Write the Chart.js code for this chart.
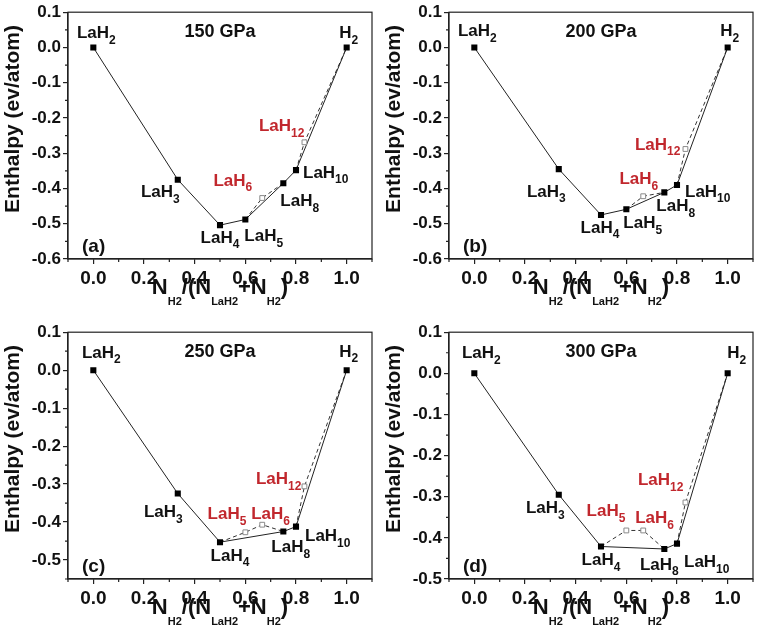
<!DOCTYPE html>
<html>
<head>
<meta charset="utf-8">
<script src="https://cdn.jsdelivr.net/npm/chart.js@4.4.1/dist/chart.umd.min.js"></script>
<style>
body { margin: 0; background: #fff; }
#wrap { display: grid; grid-template-columns: 381px 381px; grid-template-rows: 320px 320px; width: 762px; height: 640px; }
canvas { display: block; }
</style>
</head>
<body>
<div id="wrap">
<canvas id="c0" width="381" height="320"></canvas>
<canvas id="c1" width="381" height="320"></canvas>
<canvas id="c2" width="381" height="320"></canvas>
<canvas id="c3" width="381" height="320"></canvas>
</div>
<script>
const FONT = "'Liberation Sans', Arial, sans-serif";
const RED = '#c1272d';
const INK = '#111';

const pressures = ['150 GPa', '200 GPa', '250 GPa', '300 GPa'];
const panelTags = ['(a)', '(b)', '(c)', '(d)'];

// H2 fraction N_H2/(N_LaH2+N_H2) of each phase
const fracH2 = { LaH2: 0, LaH3: 0.3333, LaH4: 0.5, LaH5: 0.6, LaH6: 0.6667, LaH8: 0.75, LaH10: 0.8, LaH12: 0.8333, H2: 1 };

// phases on the hull (filled squares) and above it (open squares)
const stableAB = ['LaH2', 'LaH3', 'LaH4', 'LaH5', 'LaH8', 'LaH10', 'H2'];
const stableCD = ['LaH2', 'LaH3', 'LaH4', 'LaH8', 'LaH10', 'H2'];
const metaAB = ['LaH6', 'LaH12'];
const metaCD = ['LaH5', 'LaH6', 'LaH12'];

// enthalpies (eV/atom)
const h150 = [0, -0.375, -0.504, -0.488, -0.385, -0.348, 0];
const h150meta = [-0.427, -0.269];
const h200 = [0, -0.345, -0.475, -0.459, -0.411, -0.390, 0];
const h200meta = [-0.422, -0.288];
const h250 = [0, -0.325, -0.453, -0.425, -0.412, 0];
const h250meta = [-0.427, -0.407, -0.306];
const h300 = [0, -0.295, -0.421, -0.427, -0.414, 0];
const h300meta = [-0.382, -0.382, -0.314];

// dashed connections through metastable phases
const dashAB = [['LaH5', 'LaH6', 'LaH8'], ['LaH10', 'LaH12', 'H2']];
const dashCD = [['LaH4', 'LaH5', 'LaH6', 'LaH8'], ['LaH10', 'LaH12', 'H2']];

const xTicks = [0, 0.2, 0.4, 0.6, 0.8, 1.0];
const yTicksAB = [0.1, 0, -0.1, -0.2, -0.3, -0.4, -0.5, -0.6];
const yTicksCD = [0.1, 0, -0.1, -0.2, -0.3, -0.4, -0.5];
const yMins = [-0.6, -0.6, -0.55, -0.5];

const panels = [
    { stable: stableAB, h: h150, meta: metaAB, hm: h150meta, dash: dashAB, yTicks: yTicksAB },
    { stable: stableAB, h: h200, meta: metaAB, hm: h200meta, dash: dashAB, yTicks: yTicksAB },
    { stable: stableCD, h: h250, meta: metaCD, hm: h250meta, dash: dashCD, yTicks: yTicksCD },
    { stable: stableCD, h: h300, meta: metaCD, hm: h300meta, dash: dashCD, yTicks: yTicksCD }
];

// label placement: [dx, dy, align] relative to the marker
const labelPos = [
    { LaH2: [3, -14, 'center'], H2: [2, -14, 'center'], LaH3: [2, 13, 'right'], LaH4: [0, 13, 'center'], LaH5: [-1, 17, 'left'], LaH8: [-3, 18, 'left'], LaH10: [7, 3, 'left'], LaH6: [-10, -17, 'right'], LaH12: [0, -16, 'right'] },
    { LaH2: [3, -16, 'center'], H2: [2, -16, 'center'], LaH3: [7, 23, 'right'], LaH4: [-1, 13, 'center'], LaH5: [-3, 14, 'left'], LaH8: [-8, 14, 'left'], LaH10: [8, 7, 'left'], LaH6: [15, -17, 'right'], LaH12: [-5, -4, 'right'] },
    { LaH2: [8, -17, 'center'], H2: [2, -18, 'center'], LaH3: [5, 19, 'right'], LaH4: [10, 14, 'center'], LaH8: [-12, 16, 'left'], LaH10: [9, 10, 'left'], LaH5: [1, -18, 'right'], LaH6: [-11, -10, 'left'], LaH12: [-3, -7, 'right'] },
    { LaH2: [7, -20, 'center'], H2: [9, -20, 'center'], LaH3: [6, 14, 'right'], LaH4: [0, 14, 'center'], LaH8: [-5, 16, 'center'], LaH10: [7, 19, 'left'], LaH5: [-1, -19, 'right'], LaH6: [-8, -12, 'left'], LaH12: [-2, -22, 'right'] }
];

function drawChem(ctx, name, x, y, align, color, big, small, drop) {
    const m = name.match(/^(\D+)(\d*)$/);
    ctx.font = `bold ${big}px ${FONT}`;
    const wb = ctx.measureText(m[1]).width;
    ctx.font = `bold ${small}px ${FONT}`;
    const ws = ctx.measureText(m[2]).width;
    const w = wb + ws;
    const x0 = align === 'left' ? x : align === 'right' ? x - w : x - w / 2;
    ctx.fillStyle = color;
    ctx.textAlign = 'left';
    ctx.textBaseline = 'middle';
    ctx.font = `bold ${big}px ${FONT}`;
    ctx.fillText(m[1], x0, y);
    ctx.font = `bold ${small}px ${FONT}`;
    ctx.fillText(m[2], x0 + wb, y + drop);
}

const decor = {
    id: 'decor',
    afterDraw(chart) {
        const { ctx, chartArea: a, scales: { x, y } } = chart;
        const i = chart.options.plugins.decor.panel;
        const p = panels[i];
        ctx.save();
        // frame
        ctx.strokeStyle = '#222';
        ctx.lineWidth = 1.2;
        ctx.strokeRect(a.left, a.top, a.right - a.left, a.bottom - a.top);
        // minor ticks
        ctx.beginPath();
        for (let v = -0.1; v <= 1.101; v += 0.2) {
            const px = x.getPixelForValue(v);
            ctx.moveTo(px, a.bottom); ctx.lineTo(px, a.bottom + 3);
        }
        for (let v = 0.05; v >= yMins[i] - 0.001; v -= 0.1) {
            const py = y.getPixelForValue(v);
            ctx.moveTo(a.left, py); ctx.lineTo(a.left - 3, py);
        }
        ctx.stroke();
        // phase labels
        const pos = labelPos[i];
        p.stable.forEach((n, k) => {
            const [dx, dy, al] = pos[n];
            drawChem(ctx, n, x.getPixelForValue(fracH2[n]) + dx, y.getPixelForValue(p.h[k]) + dy, al, INK, 17, 12, 7);
        });
        p.meta.forEach((n, k) => {
            const [dx, dy, al] = pos[n];
            drawChem(ctx, n, x.getPixelForValue(fracH2[n]) + dx, y.getPixelForValue(p.hm[k]) + dy, al, RED, 17, 12, 7);
        });
        // pressure and panel tag
        ctx.fillStyle = INK;
        ctx.textAlign = 'center';
        ctx.textBaseline = 'middle';
        ctx.font = `bold 18px ${FONT}`;
        ctx.fillText(pressures[i], x.getPixelForValue(0.5), a.top + 20);
        ctx.textAlign = 'left';
        ctx.font = `bold 19px ${FONT}`;
        ctx.fillText(panelTags[i], a.left + 14, a.bottom - 12);
        // x title with subscripts
        const parts = [['N', 0], ['H2', 1], ['/(N', 0], ['LaH2', 1], ['+N', 0], ['H2', 1], [')', 0]];
        let tw = 0;
        parts.forEach(([t, s]) => {
            ctx.font = `bold ${s ? 11 : 22}px ${FONT}`;
            tw += ctx.measureText(t).width;
        });
        let cx = (a.left + a.right) / 2 - tw / 2;
        const ty = a.bottom + 29;
        parts.forEach(([t, s]) => {
            ctx.font = `bold ${s ? 11 : 22}px ${FONT}`;
            ctx.fillText(t, cx, s ? ty + 14 : ty);
            cx += ctx.measureText(t).width;
        });
        // y title
        ctx.translate(13, 119);
        ctx.rotate(-Math.PI / 2);
        ctx.textAlign = 'center';
        ctx.font = `bold 21px ${FONT}`;
        ctx.fillText('Enthalpy (ev/atom)', 0, 0);
        ctx.restore();
    }
};

panels.forEach((p, i) => {
    const datasets = [{
        data: p.stable.map((n, k) => ({ x: fracH2[n], y: p.h[k] })),
        showLine: true,
        borderColor: '#222',
        borderWidth: 1,
        pointStyle: 'rect',
        pointRadius: 4.3,
        pointBackgroundColor: '#000',
        pointBorderColor: '#000',
        pointBorderWidth: 0,
        order: 1
    }];
    const lookup = {};
    p.stable.forEach((n, k) => { lookup[n] = p.h[k]; });
    p.meta.forEach((n, k) => { lookup[n] = p.hm[k]; });
    p.dash.forEach(path => {
        datasets.push({
            data: path.map(n => ({ x: fracH2[n], y: lookup[n] })),
            showLine: true,
            borderColor: '#333',
            borderWidth: 1,
            borderDash: [4, 3],
            pointRadius: 0,
            order: 2
        });
    });
    datasets.push({
        data: p.meta.map((n, k) => ({ x: fracH2[n], y: p.hm[k] })),
        showLine: false,
        pointStyle: 'rect',
        pointRadius: 3.4,
        pointBackgroundColor: '#fff',
        pointBorderColor: '#8a8a8a',
        pointBorderWidth: 1,
        order: 0
    });

    new Chart(document.getElementById('c' + i), {
        type: 'scatter',
        data: { datasets },
        options: {
            responsive: false,
            devicePixelRatio: 1,
            animation: false,
            layout: { padding: { top: 11, right: 9, left: 0, bottom: 0 } },
            plugins: { legend: { display: false }, tooltip: { enabled: false }, decor: { panel: i } },
            scales: {
                x: {
                    type: 'linear', min: -0.1, max: 1.1,
                    afterBuildTicks: s => { s.ticks = xTicks.map(v => ({ value: v })); },
                    afterFit: s => { s.height = 61; },
                    ticks: { callback: v => v.toFixed(1), font: { family: FONT, size: 19, weight: 'bold' }, color: INK, padding: 3, maxRotation: 0, autoSkip: false },
                    grid: { drawOnChartArea: false, tickLength: 5, color: '#222', lineWidth: 1.2 },
                    border: { color: '#222', width: 1.2 }
                },
                y: {
                    type: 'linear', min: yMins[i], max: 0.1,
                    afterBuildTicks: s => { s.ticks = p.yTicks.map(v => ({ value: v })); },
                    afterFit: s => { s.width = 68; },
                    ticks: { callback: v => v.toFixed(1), font: { family: FONT, size: 17, weight: 'bold' }, color: INK, padding: 2, autoSkip: false },
                    grid: { drawOnChartArea: false, tickLength: 5, color: '#222', lineWidth: 1.2 },
                    border: { color: '#222', width: 1.2 }
                }
            }
        },
        plugins: [decor]
    });
});
</script>
</body>
</html>
